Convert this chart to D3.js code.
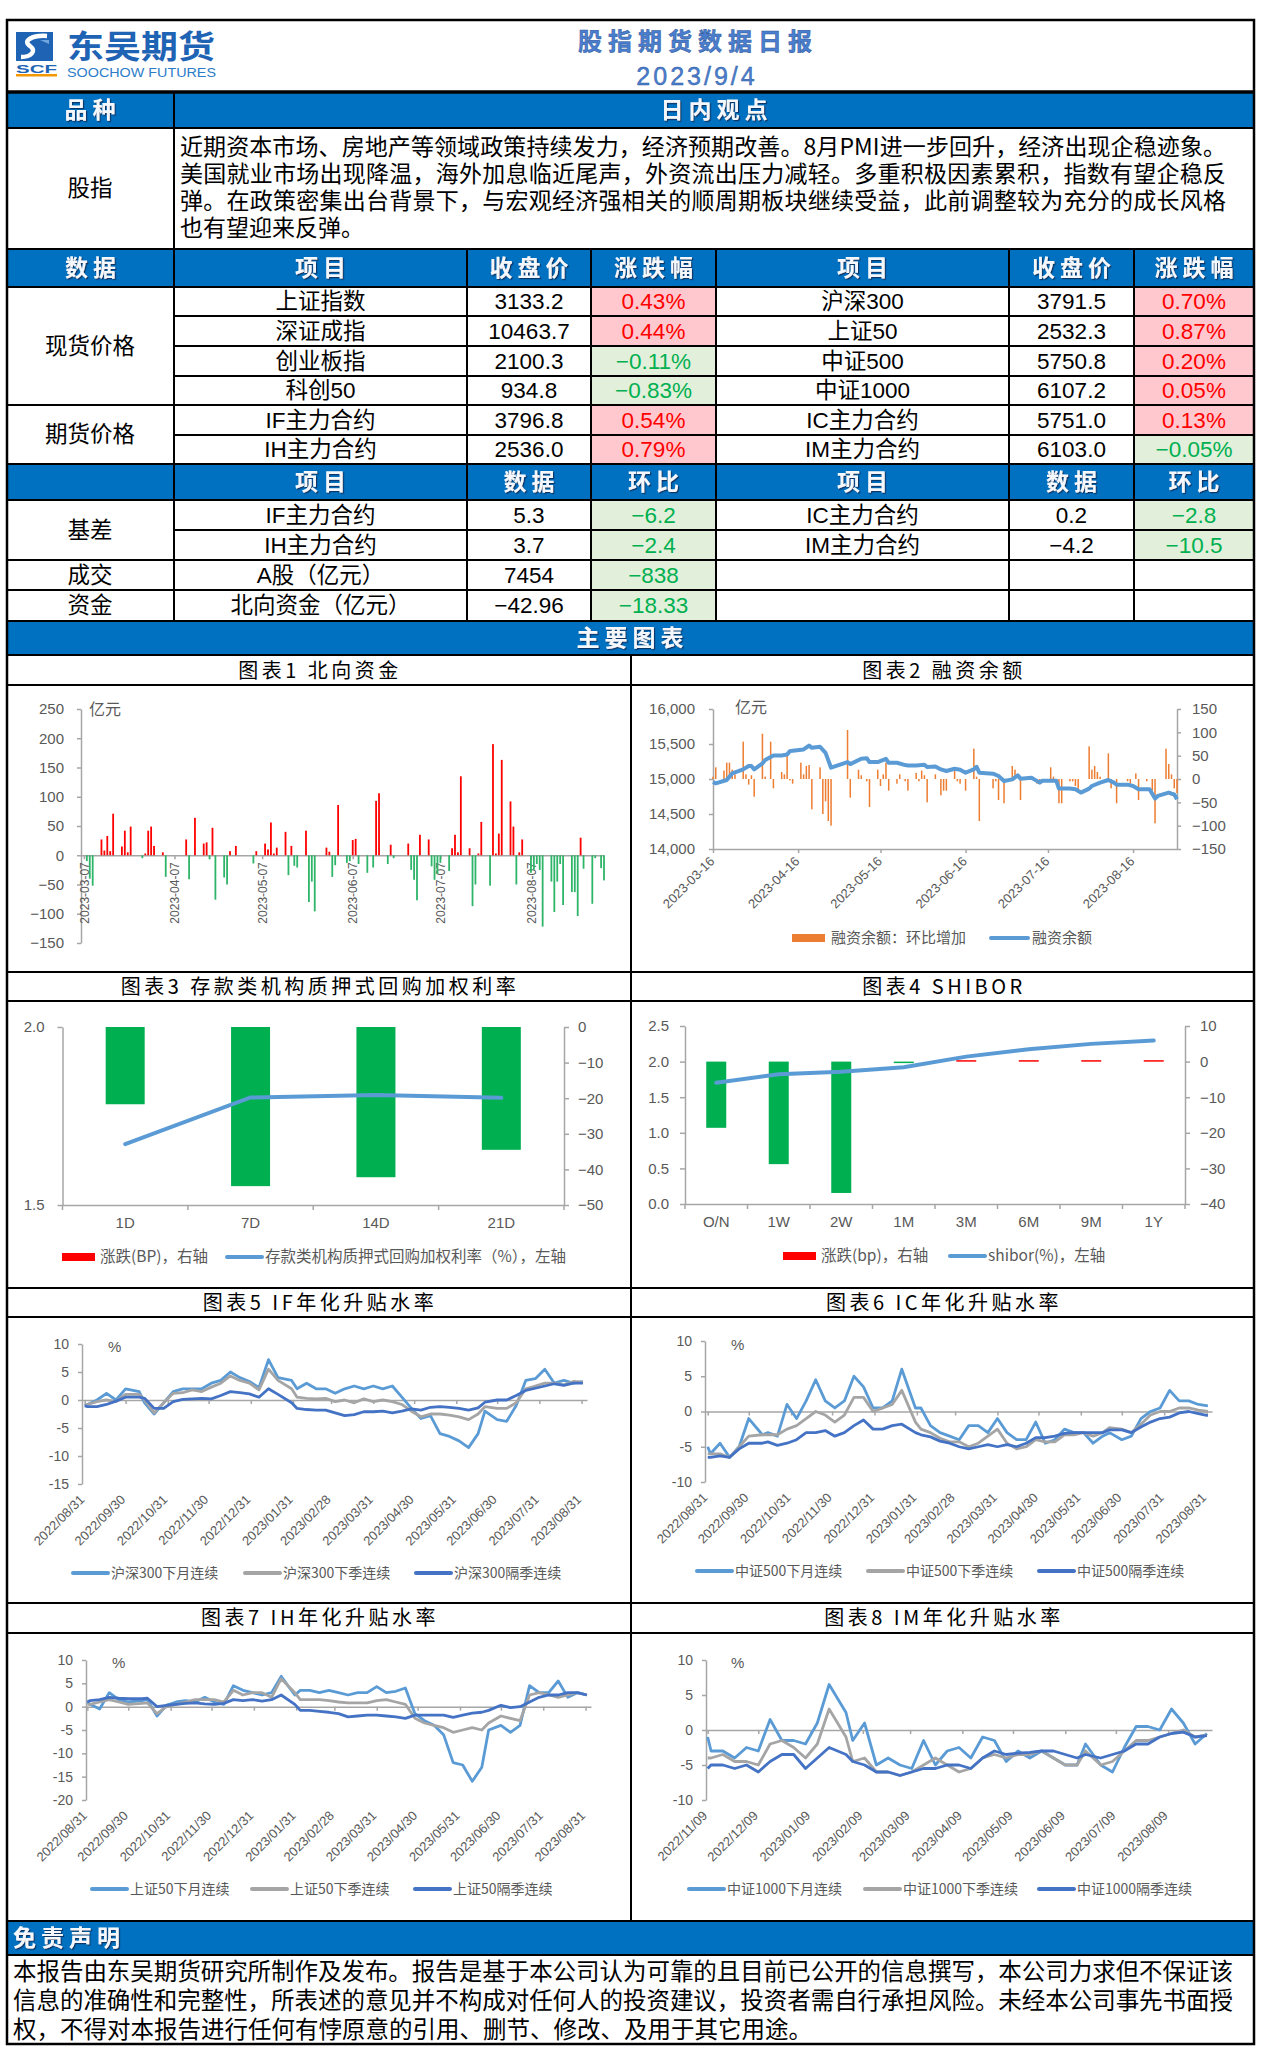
<!DOCTYPE html>
<html lang="zh-CN">
<head>
<meta charset="utf-8">
<title>股指期货数据日报</title>
<script src="https://cdn.jsdelivr.net/npm/d3@7"></script>
<style>
  body { margin: 0; background: #fff; }
  svg { display: block; }
</style>
</head>
<body>
<script>
// ---------------- data ----------------
const reportDate = "2023/9/4";
const commentary = [
  "近期资本市场、房地产等领域政策持续发力，经济预期改善。8月PMI进一步回升，经济出现企稳迹象。",
  "美国就业市场出现降温，海外加息临近尾声，外资流出压力减轻。多重积极因素累积，指数有望企稳反",
  "弹。在政策密集出台背景下，与宏观经济强相关的顺周期板块继续受益，此前调整较为充分的成长风格",
  "也有望迎来反弹。"
];
const disclaimer = [
  "本报告由东吴期货研究所制作及发布。报告是基于本公司认为可靠的且目前已公开的信息撰写，本公司力求但不保证该",
  "信息的准确性和完整性，所表述的意见并不构成对任何人的投资建议，投资者需自行承担风险。未经本公司事先书面授",
  "权，不得对本报告进行任何有悖原意的引用、删节、修改、及用于其它用途。"
];

// price table
const priceLeftNames = ["上证指数", "深证成指", "创业板指", "科创50", "IF主力合约", "IH主力合约"];
const priceLeftClose = [3133.2, 10463.7, 2100.3, 934.8, 3796.8, 2536.0];
const priceLeftChg = [0.43, 0.44, -0.11, -0.83, 0.54, 0.79];
const priceRightNames = ["沪深300", "上证50", "中证500", "中证1000", "IC主力合约", "IM主力合约"];
const priceRightClose = [3791.5, 2532.3, 5750.8, 6107.2, 5751.0, 6103.0];
const priceRightChg = [0.70, 0.87, 0.20, 0.05, 0.13, -0.05];
// basis / turnover / northbound table
const basisLeftNames = ["IF主力合约", "IH主力合约", "A股（亿元）", "北向资金（亿元）"];
const basisLeftValue = [5.3, 3.7, 7454, -42.96];
const basisLeftChg = [-6.2, -2.4, -838, -18.33];
const basisRightNames = ["IC主力合约", "IM主力合约"];
const basisRightValue = [0.2, -4.2];
const basisRightChg = [-2.8, -10.5];

// chart 1: northbound flows (亿元)
const nbDates = ["03-08","03-09","03-10","03-13","03-14","03-15","03-16","03-17","03-20","03-21",
  "03-22","03-23","03-27","03-28","03-29","03-30","03-31","04-03","04-04","04-11",
  "04-12","04-14","04-17","04-18","04-19","04-20","04-21","04-24","04-25","04-26",
  "04-28","05-04","05-05","05-08","05-09","05-10","05-11","05-12","05-15","05-16",
  "05-17","05-18","05-19","05-22","05-23","05-24","05-25","05-29","05-30","05-31",
  "06-01","06-02","06-05","06-06","06-07","06-08","06-09","06-12","06-14","06-15",
  "06-16","06-19","06-20","06-21","06-26","06-27","06-28","06-29","06-30","07-03",
  "07-04","07-05","07-06","07-07","07-10","07-11","07-12","07-13","07-14","07-17",
  "07-18","07-19","07-20","07-21","07-24","07-25","07-26","07-27","07-28","07-31",
  "08-01","08-02","08-03","08-04","08-07","08-08","08-09","08-10","08-11","08-14",
  "08-15","08-16","08-17","08-18","08-21","08-22","08-23","08-24","08-25","08-28",
  "08-29","08-31","09-01"];
const nbValues = [-10,-40,-52,27,8,33,7,71,15,42,
  5,49,-5,3,42,49,16,5,-37,27,
  -41,64,20,22,-7,47,-76,-38,-50,7,
  16,-14,7,20,10,56,3,13,40,-34,
  16,-18,-21,42,-80,-45,-96,13,6,-37,
  -17,86,-13,-10,26,28,-15,-30,-21,93,
  106,-15,18,-5,20,-25,-42,-77,35,27,
  -19,-42,-32,-13,-27,12,35,5,135,12,
  -87,-50,3,57,-52,190,3,37,163,92,
  49,-50,5,27,-30,-25,-15,-25,-122,-45,
  -97,-45,-15,-85,-63,-63,-104,30,-23,-83,
  -5,-22,-43];
const nbTicks = [-150, -100, -50, 0, 50, 100, 150, 200, 250];
const nbLabelDates = ["03-07", "04-07", "05-07", "06-07", "07-07", "08-07"];

// chart 2: margin financing balance (亿元) and daily change
const mbDates = ["03-16","03-17","03-20","03-21","03-22","03-23","03-24","03-27","03-28","03-29",
  "03-30","03-31","04-03","04-04","04-06","04-07","04-10","04-11","04-12","04-13",
  "04-14","04-17","04-18","04-19","04-20","04-21","04-24","04-25","04-26","04-27",
  "04-28","05-04","05-05","05-08","05-09","05-11","05-12","05-15","05-16","05-17",
  "05-18","05-19","05-22","05-23","05-25","05-26","05-29","05-30","05-31","06-01",
  "06-02","06-05","06-07","06-08","06-09","06-12","06-13","06-14","06-16","06-19",
  "06-20","06-21","06-26","06-27","06-28","06-30","07-03","07-04","07-06","07-12",
  "07-13","07-17","07-18","07-20","07-21","07-24","07-25","07-26","07-27","07-31",
  "08-01","08-02","08-03","08-04","08-07","08-08","08-10","08-14","08-15","08-17",
  "08-18","08-21","08-23","08-24","08-28","08-29","08-30","08-31","09-01"];
const mbChange = [5,25,18,35,35,20,10,80,10,-12,
  8,-38,97,5,80,-20,15,10,50,-3,
  -10,35,10,28,30,-65,25,-75,-48,-90,
  -100,105,-40,20,8,-5,-60,20,-15,10,
  35,-25,-10,10,-5,-25,13,-5,18,8,
  -50,10,-35,-25,-25,25,-5,-10,-25,65,
  5,-90,-20,-5,-45,-52,28,20,-45,-10,
  -5,25,5,-52,-52,-5,-5,-15,-25,70,
  20,28,15,5,55,-20,-52,-5,-15,12,
  -45,-5,-25,-95,65,32,10,-20,-30];
const mbBalDates = ["03-16","03-17","03-21","03-23","03-27","03-29","03-30","03-31","04-03","04-04",
  "04-07","04-10","04-12","04-13","04-14","04-18","04-20","04-21","04-24","04-26",
  "04-28","05-04","05-05","05-09","05-11","05-12","05-15","05-18","05-19","05-22",
  "05-25","05-26","05-29","06-01","06-02","06-05","06-07","06-09","06-12","06-14",
  "06-16","06-19","06-20","06-21","06-26","06-28","06-30","07-03","07-05","07-06",
  "07-10","07-11","07-13","07-14","07-19","07-20","07-24","07-26","07-28","07-31",
  "08-01","08-04","08-07","08-09","08-10","08-14","08-16","08-18","08-22","08-24",
  "08-25","08-29","08-30","08-31","09-01"];
const mbBalance = [14957,14938,14986,15080,15137,15185,15185,15137,15222,15270,
  15336,15336,15350,15398,15403,15422,15478,15445,15460,15374,
  15161,15242,15213,15289,15298,15242,15242,15289,15232,15232,
  15199,15194,15194,15204,15170,15180,15137,15114,15147,15133,
  15090,15137,15175,15090,15076,15043,14972,14995,15052,15005,
  15019,14995,14948,14976,14976,14863,14863,14853,14806,14863,
  14900,14948,14986,14948,14919,14919,14900,14853,14853,14720,
  14758,14806,14790,14780,14711];
const mbLeftTicks = [14000, 14500, 15000, 15500, 16000];
const mbRightTicks = [-150, -100, -50, 0, 50, 100, 150];
const mbLabelDates = ["03-16", "04-16", "05-16", "06-16", "07-16", "08-16"];

// chart 3: repo rates
const repoTerms = ["1D", "7D", "14D", "21D"];
const repoChange = [-21.7, -44.7, -42.2, -34.5];
const repoRate = [1.671, 1.802, 1.809, 1.801];
const repoLeftTicks = [1.5, 2.0];
const repoRightTicks = [-50, -40, -30, -20, -10, 0];

// chart 4: SHIBOR
const shiborTerms = ["O/N", "1W", "2W", "1M", "3M", "6M", "9M", "1Y"];
const shiborChange = [-18.6, -28.8, -36.9, -0.2, 0.4, 0.4, 0.4, 0.4];
const shiborRate = [1.704, 1.822, 1.859, 1.920, 2.070, 2.174, 2.249, 2.296];
const shiborLeftTicks = [0, 0.5, 1.0, 1.5, 2.0, 2.5];
const shiborRightTicks = [-40, -30, -20, -10, 0, 10];

// charts 5-7: annualised basis (%), weekly readings
const basisDates = ["2022-08-31","2022-09-02","2022-09-09","2022-09-16","2022-09-23","2022-09-30",
  "2022-10-10","2022-10-14","2022-10-21","2022-10-28","2022-11-04","2022-11-11","2022-11-18","2022-11-25",
  "2022-12-02","2022-12-09","2022-12-16","2022-12-23","2022-12-30","2023-01-06","2023-01-13","2023-01-20",
  "2023-01-30","2023-02-03","2023-02-10","2023-02-17","2023-02-24","2023-03-03","2023-03-10","2023-03-17",
  "2023-03-24","2023-03-31","2023-04-07","2023-04-14","2023-04-21","2023-04-28","2023-05-05","2023-05-12",
  "2023-05-19","2023-05-26","2023-06-02","2023-06-09","2023-06-16","2023-06-21","2023-06-30","2023-07-07",
  "2023-07-14","2023-07-21","2023-07-28","2023-08-04","2023-08-11","2023-08-18","2023-08-25","2023-09-01"];
const monthEndLabels = ["2022-08-31","2022-09-30","2022-10-31","2022-11-30","2022-12-31","2023-01-31",
  "2023-02-28","2023-03-31","2023-04-30","2023-05-31","2023-06-30","2023-07-31","2023-08-31"];
const ifNextMonth = [-1,-0.8,0,1.2,0,2,1.5,-0.5,-2.5,-0.5,1.5,2,2,2,3,3.5,5,4,3.3,2.2,7.2,4,3.5,2,3,2,2,
  1.2,2,2.5,2,2.5,2,2.5,0.5,-1.5,-3.3,-2.8,-6,-6.5,-7.3,-8.5,-6,-2,-3.5,-3.8,-1,3.5,3.8,5.5,3,3.5,3,3.3];
const ifNextQuarter = [-1,-0.8,-0.3,0,-0.3,1,1,0,-2.3,-0.5,1.2,1.3,1.8,1.5,2.3,3,4.3,3.5,3,1.8,5.5,3.5,2,
  0.5,0.3,0.2,0.3,-0.3,0,-0.5,0.2,-0.3,0,-0.3,-0.8,-2,-3,-2.5,-2.5,-2.7,-3,-3.5,-2.5,-1.2,-1.5,-1.5,-0.5,
  2,2.5,3,3,2.7,3.3,3.2];
const ifFarQuarter = [-1,-1.2,-1.2,-0.8,-0.2,0.5,0.5,0.3,-1.5,-1.5,-0.3,0.1,0.2,0.3,0.2,0.8,1.5,1.3,1.1,0.5,
  2,1,-0.5,-1.5,-1.7,-1.8,-1.8,-2.3,-2.8,-2.6,-2.1,-2.1,-2,-2.3,-2,-1.6,-1.8,-1.3,-1.2,-1.3,-1.5,-1.8,-1.4,
  -0.4,0,0,0.8,1.7,2.1,2.5,2.9,2.6,3,3];
const icNextMonth = [-5,-6,-4.5,-6.5,-5,-1,-3.3,-3,-3.5,1,-1,1.5,4.5,1.5,0.5,1.5,5,3.5,0.5,0.5,1.5,6,0.5,
  0.5,-2,-3,-3.5,-4,-2,-2,-3,-1,-3,-4,-4,-1.5,-4.5,-4,-2.5,-3,-3,-4.5,-3.5,-3,-4,-3.5,-1,0,0.5,3,1.5,1.5,1,0.8];
const icNextQuarter = [-6,-6,-6,-6.5,-5,-3.5,-3.3,-3.3,-3.3,-2.5,-2,-1,0,-0.5,-1.5,-0.5,2,2,0,0.5,1,3,-1.5,
  -2.5,-3,-3.8,-4.3,-4.3,-5,-4.5,-3.5,-2.5,-4.5,-5.3,-5,-4,-4.3,-4.3,-3.3,-3.3,-3,-3.5,-3,-2.3,-2.5,-3,-1.8,
  -0.5,0,0,0.5,0.5,0.2,0];
const icFarQuarter = [-6.5,-6.5,-6.3,-6.5,-5.3,-4.5,-4.5,-4.3,-4.8,-4.5,-4,-3,-3,-2.7,-3.5,-3,-2,-1.2,-2.5,
  -2.5,-2,-1.8,-3,-3.3,-3.6,-4.2,-4.5,-5,-5.3,-5,-4.7,-5,-4.7,-5,-4.5,-3.7,-3.7,-3.5,-3.1,-3,-3,-3,-3,-2.6,
  -2.6,-3,-2.2,-1.5,-1,-0.8,-0.2,0,-0.3,-0.6];
const ihNextMonth = [1,0.5,-0.5,3,1.5,1,1.3,1.5,-2,0.3,1,1.3,1,2,1,0.5,4.5,3.5,3,2.5,3,6.5,2.5,3.5,3.5,3,
  3.5,3,2.5,3,3,4.3,3,3.3,4,-1.5,-3,-4,-6,-12,-12.5,-16,-13,-5,-4,-5.5,-4,4.5,3,3,5.5,2,3,2.5];
const ihNextQuarter = [0.5,0.5,1,1.5,1,0.5,0.7,0.8,-1.5,0,0.5,1,1.5,1.5,1.5,1,3.5,2.5,3,3,2,6,3,1.5,1.5,
  1.5,1.3,1,0.8,0.8,0.8,1.3,1.5,1,0.5,-2.5,-3.5,-4,-4.5,-5.5,-5,-4.5,-5,-3.5,-2,-2.5,-3,2.5,3,2.5,2,2.5,3,2.5];
const ihFarQuarter = [1,1.3,1.5,2,1.8,1.7,1.7,1.8,0,0.3,0.5,0.7,0.8,0.6,0.5,0.7,1.5,1.3,1.5,1.2,1.5,2.5,0.5,
  -0.8,-0.8,-1,-1.2,-1.5,-2.2,-2,-1.8,-1.8,-2,-2.2,-2.5,-1.8,-1.8,-1.8,-1.8,-2.3,-1.8,-1.4,-1.2,-0.8,0.3,
  -0.2,0,1,2,2.5,2.5,3,3,2.5];

// chart 8: IM annualised basis (%), weekly readings
const imDates = ["2022-11-09","2022-11-11","2022-11-18","2022-11-25","2022-12-02","2022-12-09","2022-12-16",
  "2022-12-23","2022-12-30","2023-01-06","2023-01-13","2023-01-20","2023-01-30","2023-02-03","2023-02-10",
  "2023-02-17","2023-02-24","2023-03-03","2023-03-10","2023-03-17","2023-03-24","2023-03-31","2023-04-07",
  "2023-04-14","2023-04-21","2023-04-28","2023-05-05","2023-05-12","2023-05-19","2023-05-26","2023-06-02",
  "2023-06-09","2023-06-16","2023-06-21","2023-06-30","2023-07-07","2023-07-14","2023-07-21","2023-07-28",
  "2023-08-04","2023-08-11","2023-08-18","2023-08-25","2023-09-01"];
const imLabels = ["2022-11-09","2022-12-09","2023-01-09","2023-02-09","2023-03-09","2023-04-09",
  "2023-05-09","2023-06-09","2023-07-09","2023-08-09"];
const imNextMonth = [-1,-3,-3,-4,-2.5,-3,1.5,-1.5,-1.5,-2,1,6.5,2.5,-1.5,1,-5,-4,-5,-5.5,-1.5,-5,-3,-2.5,
  -4,-1,-1.5,-4.5,-3,-4,-3,-4,-5,-5,-2,-5,-6,-2.5,0.5,0.5,0,3,1,-2,-0.5];
const imNextQuarter = [-4,-4,-3.5,-4.5,-4.5,-5,-2,-1.5,-2.5,-4,-2,3,-1,-4.5,-4,-6,-6,-6.5,-6,-5,-4,-5,-6,
  -5.5,-4,-3.5,-4,-3.5,-3.5,-3,-4,-5,-5,-3,-5,-4.5,-3,-1.5,-1.5,-1,-0.5,0,-1,-0.7];
const imFarQuarter = [-5.5,-5,-5,-5.5,-5,-6,-4.5,-3.5,-3.5,-5.5,-4,-2.5,-3.5,-4.5,-5,-6,-6,-6.5,-6,-5.5,
  -5.5,-5,-5,-5.5,-4,-3,-3.5,-3.3,-3.2,-3,-3,-3.5,-4,-3.5,-4,-3.5,-3,-2,-2,-1,-0.5,-0.3,-1,-0.8];

// ---------------- drawing ----------------
const W = 1262, H = 2065;
const FONT = '"Liberation Sans","Noto Sans CJK SC",sans-serif';
const CJK = '"Noto Sans CJK SC","Liberation Sans",sans-serif';
const AXIS = "#A6A6A6", LABEL = "#595959";
const parse = d3.utcParse("%Y-%m-%d");
const d23 = s => parse("2023-" + s);

const svg = d3.select("body").append("svg")
    .attr("width", W).attr("height", H)
    .attr("font-family", FONT);
svg.append("rect").attr("width", W).attr("height", H).attr("fill", "#fff");
svg.append("defs").append("filter").attr("id", "shade")
  .append("feDropShadow").attr("dx", 1.2).attr("dy", 1.2).attr("stdDeviation", 0.3)
    .attr("flood-color", "#0f3466").attr("flood-opacity", 1);

function text(x, y, s, o = {}) {
  return svg.append("text")
      .attr("x", x).attr("y", y).attr("dy", "0.35em")
      .attr("text-anchor", o.anchor || "middle")
      .attr("font-size", o.size || 16)
      .attr("font-family", o.font || FONT)
      .attr("font-weight", o.weight || null)
      .attr("letter-spacing", o.ls || null)
      .attr("fill", o.fill || "#000")
      .text(s);
}
function barText(x, y, s, anchor = "middle") {
  const dx = anchor === "middle" ? 2.5 : 0;   // letter-spacing leaves a trailing gap
  text(x + dx, y, s, {anchor, size: 23, weight: "bold", fill: "#f4f8fc", font: CJK, ls: 5})
      .attr("filter", "url(#shade)");
}
// several lines in one text element, each stretched to a given width
function paragraph(x, y0, step, lines, size, width, justifyCount) {
  const t = svg.append("text").attr("font-size", size).attr("font-family", CJK).attr("fill", "#000");
  lines.forEach((s, i) => {
    const sp = t.append("tspan").attr("x", x).attr("y", y0 + i * step).attr("dy", "0.35em").text(s);
    if (i < justifyCount) {
      const len = sp.node().getComputedTextLength();
      sp.attr("letter-spacing", (width - len) / (s.length - 1));
    }
  });
}
function styleAxis(g, size) {
  g.attr("font-family", FONT).attr("font-size", size);
  g.selectAll(".domain").attr("stroke", AXIS).attr("stroke-width", 1.5);
  g.selectAll(".tick line").attr("stroke", AXIS).attr("stroke-width", 1.5);
  g.selectAll(".tick text").attr("fill", LABEL);
}

// ---- frame / table ----
const X = [7, 174, 467, 591, 716, 1009, 1134, 1254];
const blueRows = [[92, 128], [249, 287], [464, 500], [621, 655], [1921, 1955]];
blueRows.forEach(([a, b]) => svg.append("rect")
    .attr("x", 7).attr("y", a).attr("width", 1247).attr("height", b - a).attr("fill", "#0070C0"));

const priceRowY = [287, 316, 346, 376, 405, 435, 464];
const basisRowY = [500, 530, 560, 590, 621];
const PINK = "#FFC7CE", PALEGREEN = "#E2EFDA", RED = "#FF0000", GREEN = "#00B050";
const TS = 22.5;
const fmtPct = d3.format(".2f");
function chgCell(x0, x1, y0, y1, v, str) {
  svg.append("rect").attr("x", x0).attr("y", y0).attr("width", x1 - x0).attr("height", y1 - y0)
      .attr("fill", v >= 0 ? PINK : PALEGREEN);
  text((x0 + x1) / 2, (y0 + y1) / 2, str, {size: TS, fill: v >= 0 ? RED : GREEN});
}
priceLeftChg.forEach((v, i) => chgCell(X[3], X[4], priceRowY[i], priceRowY[i + 1], v, fmtPct(v) + "%"));
priceRightChg.forEach((v, i) => chgCell(X[6], X[7], priceRowY[i], priceRowY[i + 1], v, fmtPct(v) + "%"));
basisLeftChg.forEach((v, i) => chgCell(X[3], X[4], basisRowY[i], basisRowY[i + 1], v, String(v).replace("-", "−")));
basisRightChg.forEach((v, i) => chgCell(X[6], X[7], basisRowY[i], basisRowY[i + 1], v, String(v).replace("-", "−")));

// grid lines
function hline(y, x0 = 7, x1 = 1254, w = 2) {
  svg.append("line").attr("x1", x0).attr("x2", x1).attr("y1", y).attr("y2", y)
      .attr("stroke", "#000").attr("stroke-width", w);
}
function vline(x, y0, y1, w = 2) {
  svg.append("line").attr("x1", x).attr("x2", x).attr("y1", y0).attr("y2", y1)
      .attr("stroke", "#000").attr("stroke-width", w);
}
hline(92, 7, 1254, 3.5);
[128, 249, 287, 405, 464, 500, 560, 590, 621, 655, 685, 972, 1001, 1288, 1317, 1603, 1633, 1921, 1955]
    .forEach(y => hline(y));
[316, 346, 376, 435, 530].forEach(y => hline(y, X[1]));
vline(X[1], 92, 621);
X.slice(2, 7).forEach(x => vline(x, 249, 621));
vline(631, 655, 1921);
svg.append("rect").attr("x", 7).attr("y", 20).attr("width", 1247).attr("height", 2024)
    .attr("fill", "none").attr("stroke", "#000").attr("stroke-width", 2.5);

// header: logo + titles
svg.append("rect").attr("x", 16).attr("y", 32).attr("width", 37).attr("height", 29).attr("fill", "#1F64B4");
svg.append("path").attr("d", "M47,36 C32,35 22,41 30,46 C37,51 31,57 21,57")
    .attr("fill", "none").attr("stroke", "#fff").attr("stroke-width", 4.5);
svg.append("path").attr("d", "M40,40 L49,40 L49,44 Z").attr("fill", "#6FA6DD");
svg.append("text").attr("x", 16).attr("y", 72.5).attr("font-size", 11).attr("font-weight", "bold")
    .attr("fill", "#1F64B4").attr("textLength", 41).attr("lengthAdjust", "spacingAndGlyphs").text("SCF");
svg.append("rect").attr("x", 16).attr("y", 74).attr("width", 41).attr("height", 2.5).attr("fill", "#F39800");
svg.append("text").attr("x", 67).attr("y", 58).attr("font-size", 32).attr("font-weight", "bold")
    .attr("font-family", CJK).attr("fill", "#1F64B4")
    .attr("textLength", 148).attr("lengthAdjust", "spacingAndGlyphs").text("东吴期货");
svg.append("text").attr("x", 67).attr("y", 77).attr("font-size", 12)
    .attr("fill", "#2B7BC8").attr("textLength", 149).attr("lengthAdjust", "spacingAndGlyphs")
    .text("SOOCHOW FUTURES");
text(698, 42, "股指期货数据日报", {size: 24, weight: "bold", fill: "#4A7FD0", font: CJK, ls: 6})
    .attr("stroke", "#2F5597").attr("stroke-width", 0.5);
text(697, 76, reportDate, {size: 25, fill: "#4A7FD0", ls: 3})
    .attr("stroke", "#2F5597").attr("stroke-width", 0.4);

// section bars
barText(90, 110, "品种");
barText(714, 110, "日内观点");
["数据", "项目", "收盘价", "涨跌幅", "项目", "收盘价", "涨跌幅"].forEach((s, i) =>
  barText((X[i] + X[i + 1]) / 2, 268, s));
["项目", "数据", "环比", "项目", "数据", "环比"].forEach((s, i) =>
  barText((X[i + 1] + X[i + 2]) / 2, 482, s));
barText(630, 638, "主要图表");
barText(13, 1938, "免责声明", "start");

// commentary
text(90, 188, "股指", {size: TS, font: CJK});
paragraph(180, 147, 27, commentary, 23, 1046, 3);

// table body
const mid = (a, b) => (a + b) / 2;
text(90, mid(287, 405), "现货价格", {size: TS, font: CJK});
text(90, mid(405, 464), "期货价格", {size: TS, font: CJK});
text(90, mid(500, 560), "基差", {size: TS, font: CJK});
text(90, mid(560, 590), "成交", {size: TS, font: CJK});
text(90, mid(590, 621), "资金", {size: TS, font: CJK});
const fmt1 = d3.format(".1f");
priceLeftNames.forEach((s, i) => {
  const yc = mid(priceRowY[i], priceRowY[i + 1]);
  text(mid(X[1], X[2]), yc, s, {size: TS});
  text(mid(X[2], X[3]), yc, fmt1(priceLeftClose[i]), {size: TS});
  text(mid(X[4], X[5]), yc, priceRightNames[i], {size: TS});
  text(mid(X[5], X[6]), yc, fmt1(priceRightClose[i]), {size: TS});
});
basisLeftNames.forEach((s, i) => {
  const yc = mid(basisRowY[i], basisRowY[i + 1]);
  text(mid(X[1], X[2]), yc, s, {size: TS});
  text(mid(X[2], X[3]), yc, String(basisLeftValue[i]).replace("-", "−"), {size: TS});
});
basisRightNames.forEach((s, i) => {
  const yc = mid(basisRowY[i], basisRowY[i + 1]);
  text(mid(X[4], X[5]), yc, s, {size: TS});
  text(mid(X[5], X[6]), yc, String(basisRightValue[i]).replace("-", "−"), {size: TS});
});

// chart titles
const titles = [
  ["图表1  北向资金", "图表2  融资余额", 670.5],
  ["图表3  存款类机构质押式回购加权利率", "图表4  SHIBOR", 986.5],
  ["图表5  IF年化升贴水率", "图表6  IC年化升贴水率", 1302.5],
  ["图表7  IH年化升贴水率", "图表8  IM年化升贴水率", 1618]
];
titles.forEach(([a, b, y]) => {
  text(320, y, a, {size: 20, font: CJK, ls: 3.5});
  text(944, y, b, {size: 20, font: CJK, ls: 3.5});
});

// ---- chart 1: northbound ----
{
  const x = d3.scaleUtc().domain([parse("2023-03-06"), parse("2023-09-01")]).range([81, 604]);
  const y = d3.scaleLinear().domain([-150, 250]).range([943, 709]);
  svg.append("g").attr("transform", "translate(81,0)")
      .call(d3.axisLeft(y).tickValues(nbTicks).tickSize(4).tickSizeOuter(0).tickPadding(13))
      .call(styleAxis, 15);
  const xa = svg.append("g").attr("transform", `translate(0,${y(0)})`)
      .call(d3.axisBottom(x).tickValues(nbLabelDates.map(d23)).tickSize(4).tickSizeOuter(0)
        .tickFormat(d3.utcFormat("%Y-%m-%d")))
      .call(styleAxis, 12);
  xa.selectAll(".tick text").attr("transform", "rotate(-90)").attr("x", -7).attr("y", 0)
      .attr("dy", "0.35em").attr("text-anchor", "end");
  svg.append("g").selectAll("rect").data(nbDates.map((d, i) => [d23(d), nbValues[i]])).join("rect")
      .attr("x", d => x(d[0]) - 0.9).attr("width", 1.8)
      .attr("y", d => Math.min(y(d[1]), y(0))).attr("height", d => Math.abs(y(d[1]) - y(0)))
      .attr("fill", d => d[1] >= 0 ? "#FF0000" : "#2FB56A");
  text(89, 709, "亿元", {anchor: "start", size: 16, font: CJK, fill: LABEL});
}

// ---- chart 2: margin balance ----
{
  const x = d3.scaleUtc().domain([d23("03-16"), d23("09-01")]).range([713, 1177]);
  const yL = d3.scaleLinear().domain([14000, 16000]).range([849, 709]);
  const yR = d3.scaleLinear().domain([-150, 150]).range([849, 709]);
  svg.append("g").attr("transform", "translate(713,0)")
      .call(d3.axisLeft(yL).tickValues(mbLeftTicks).tickSize(4).tickSizeOuter(0).tickPadding(14).tickFormat(d3.format(",")))
      .call(styleAxis, 15);
  svg.append("g").attr("transform", "translate(1177,0)")
      .call(d3.axisRight(yR).tickValues(mbRightTicks).tickSize(4).tickSizeOuter(0).tickPadding(11))
      .call(styleAxis, 15);
  const xa = svg.append("g").attr("transform", "translate(0,849)")
      .call(d3.axisBottom(x).tickValues(mbLabelDates.map(d23)).tickSize(4).tickSizeOuter(0)
        .tickFormat(d3.utcFormat("%Y-%m-%d")))
      .call(styleAxis, 13);
  xa.selectAll(".tick text").attr("transform", "rotate(-45)").attr("x", -8).attr("y", 6)
      .attr("dy", "0.35em").attr("text-anchor", "end");
  svg.append("g").selectAll("rect").data(mbDates.map((d, i) => [d23(d), mbChange[i]])).join("rect")
      .attr("x", d => x(d[0]) - 0.75).attr("width", 1.5)
      .attr("y", d => Math.min(yR(d[1]), yR(0))).attr("height", d => Math.abs(yR(d[1]) - yR(0)))
      .attr("fill", "#ED7D31");
  svg.append("path").datum(mbBalDates.map((d, i) => [d23(d), mbBalance[i]]))
      .attr("fill", "none").attr("stroke", "#5B9BD5").attr("stroke-width", 4).attr("stroke-linejoin", "round")
      .attr("d", d3.line().x(d => x(d[0])).y(d => yL(d[1])));
  text(735, 707, "亿元", {anchor: "start", size: 16, font: CJK, fill: LABEL});
  svg.append("rect").attr("x", 792).attr("y", 934).attr("width", 33).attr("height", 8).attr("fill", "#ED7D31");
  text(831, 938, "融资余额：环比增加", {anchor: "start", size: 15, font: CJK, fill: LABEL});
  svg.append("line").attr("x1", 991).attr("x2", 1028).attr("y1", 938).attr("y2", 938)
      .attr("stroke", "#5B9BD5").attr("stroke-width", 4).attr("stroke-linecap", "round");
  text(1032, 938, "融资余额", {anchor: "start", size: 15, font: CJK, fill: LABEL});
}

// ---- charts 3 & 4: rate bars + line ----
function rateChart(c) {
  const x = d3.scaleBand().domain(c.cats).range(c.xRange);
  const yL = d3.scaleLinear().domain(c.leftDomain).range(c.yRange);
  const yR = d3.scaleLinear().domain(c.rightDomain).range(c.yRange);
  const [x0, x1] = c.xRange, yb = c.yRange[0];
  svg.append("g").attr("transform", `translate(${x0},0)`)
      .call(d3.axisLeft(yL).tickValues(c.leftTicks).tickSize(5).tickSizeOuter(0).tickPadding(c.padL).tickFormat(d3.format(".1f")))
      .call(styleAxis, 15);
  svg.append("g").attr("transform", `translate(${x1},0)`)
      .call(d3.axisRight(yR).tickValues(c.rightTicks).tickSize(5).tickSizeOuter(0).tickPadding(c.padR))
      .call(styleAxis, 15);
  svg.append("g").attr("transform", `translate(0,${yb})`)
      .call(d3.axisBottom(x).tickSize(0).tickSizeOuter(0).tickPadding(12))
      .call(styleAxis, 15);
  svg.append("g").selectAll("line").data(d3.range(c.cats.length + 1)).join("line")
      .attr("x1", i => x0 + i * x.step()).attr("x2", i => x0 + i * x.step())
      .attr("y1", yb).attr("y2", yb + 5).attr("stroke", AXIS).attr("stroke-width", 1.5);
  const bw = c.barWidth;
  svg.append("g").selectAll("rect").data(c.cats.map((k, i) => [k, c.change[i]])).join("rect")
      .attr("x", d => x(d[0]) + x.bandwidth() / 2 - bw / 2).attr("width", bw)
      .attr("y", d => Math.min(yR(d[1]), yR(0)))
      .attr("height", d => Math.max(1.5, Math.abs(yR(d[1]) - yR(0))))
      .attr("fill", d => d[1] >= 0 ? "#FF0000" : "#00B050");
  svg.append("path").datum(c.cats.map((k, i) => [k, c.rate[i]]))
      .attr("fill", "none").attr("stroke", "#5B9BD5").attr("stroke-width", 4).attr("stroke-linecap", "round")
      .attr("d", d3.line().x(d => x(d[0]) + x.bandwidth() / 2).y(d => yL(d[1])));
  const L = c.legend;
  svg.append("rect").attr("x", L.rect).attr("y", L.y - 4).attr("width", 33).attr("height", 8).attr("fill", "#FF0000");
  text(L.rect + 38, L.y, L.t1, {anchor: "start", size: 15.5, font: CJK, fill: LABEL});
  svg.append("line").attr("x1", L.line).attr("x2", L.line + 35).attr("y1", L.y).attr("y2", L.y)
      .attr("stroke", "#5B9BD5").attr("stroke-width", 4).attr("stroke-linecap", "round");
  text(L.line + 38, L.y, L.t2, {anchor: "start", size: 15.5, font: CJK, fill: LABEL});
}
rateChart({cats: repoTerms, change: repoChange, rate: repoRate, xRange: [62.5, 564], yRange: [1205, 1027],
  leftDomain: [1.5, 2.0], rightDomain: [-50, 0], leftTicks: repoLeftTicks, rightTicks: repoRightTicks,
  padL: 13, padR: 9, barWidth: 39,
  legend: {y: 1257, rect: 62, line: 227, t1: "涨跌(BP)，右轴", t2: "存款类机构质押式回购加权利率（%），左轴"}});
rateChart({cats: shiborTerms, change: shiborChange, rate: shiborRate, xRange: [685, 1185], yRange: [1204, 1026],
  leftDomain: [0, 2.5], rightDomain: [-40, 10], leftTicks: shiborLeftTicks, rightTicks: shiborRightTicks,
  padL: 11, padR: 10, barWidth: 20,
  legend: {y: 1256, rect: 783, line: 950, t1: "涨跌(bp)，右轴", t2: "shibor(%)，左轴"}});

// ---- charts 5-8: annualised basis ----
function basisChart(c) {
  const x = d3.scaleUtc().domain(c.xDomain.map(parse)).range(c.xRange);
  const y = d3.scaleLinear().domain(c.yDomain).range(c.yRange);
  const [x0] = c.xRange, yb = c.yRange[0];
  svg.append("g").attr("transform", `translate(${x0},0)`)
      .call(d3.axisLeft(y).tickValues(c.ticks).tickSize(4).tickSizeOuter(0).tickPadding(9).tickFormat(d => String(d)))
      .call(styleAxis, 14);
  const labelDates = c.labels.map(parse);
  svg.append("g").attr("transform", `translate(0,${y(0)})`)
      .call(d3.axisBottom(x).tickValues(labelDates).tickSize(4).tickSizeOuter(0).tickFormat(""))
      .call(styleAxis, 12);
  const la = svg.append("g").attr("transform", `translate(0,${yb})`)
      .call(d3.axisBottom(x).tickValues(labelDates).tickSize(0).tickSizeOuter(0).tickFormat(d3.utcFormat("%Y/%m/%d")))
      .call(styleAxis, 13);
  la.select(".domain").remove();
  la.selectAll(".tick text").attr("transform", "rotate(-45)").attr("x", -11.5).attr("y", 7)
      .attr("dy", "0.35em").attr("text-anchor", "end");
  const colors = ["#5B9BD5", "#A5A5A5", "#4472C4"];
  const line = d3.line().x(d => x(d[0])).y(d => y(d[1]));
  c.series.forEach((s, k) => {
    svg.append("path").datum(c.dates.map((d, i) => [parse(d), s[i]]))
        .attr("fill", "none").attr("stroke", colors[k]).attr("stroke-width", 2.8)
        .attr("stroke-linejoin", "round").attr("d", line);
  });
  text(c.pct[0], c.pct[1], "%", {anchor: "start", size: 15, fill: LABEL});
  c.names.forEach((n, k) => {
    const lx = c.legendX[k];
    svg.append("line").attr("x1", lx).attr("x2", lx + 35).attr("y1", c.legendY).attr("y2", c.legendY)
        .attr("stroke", colors[k]).attr("stroke-width", 4).attr("stroke-linecap", "round");
    text(lx + 38, c.legendY, n, {anchor: "start", size: 14, font: CJK, fill: LABEL});
  });
}
basisChart({xDomain: ["2022-08-29", "2023-09-04"], xRange: [82, 587], yDomain: [-15, 10], yRange: [1484, 1344],
  ticks: [-15, -10, -5, 0, 5, 10], labels: monthEndLabels, dates: basisDates,
  series: [ifNextMonth, ifNextQuarter, ifFarQuarter], pct: [108, 1347],
  names: ["沪深300下月连续", "沪深300下季连续", "沪深300隔季连续"], legendX: [73, 245, 416], legendY: 1573});
basisChart({xDomain: ["2022-08-29", "2023-09-04"], xRange: [705, 1212], yDomain: [-10, 10], yRange: [1482, 1341],
  ticks: [-10, -5, 0, 5, 10], labels: monthEndLabels, dates: basisDates,
  series: [icNextMonth, icNextQuarter, icFarQuarter], pct: [731, 1345],
  names: ["中证500下月连续", "中证500下季连续", "中证500隔季连续"], legendX: [697, 868, 1039], legendY: 1571});
basisChart({xDomain: ["2022-08-30", "2023-09-04"], xRange: [86, 591], yDomain: [-20, 10], yRange: [1800, 1660],
  ticks: [-20, -15, -10, -5, 0, 5, 10], labels: monthEndLabels, dates: basisDates,
  series: [ihNextMonth, ihNextQuarter, ihFarQuarter], pct: [112, 1663],
  names: ["上证50下月连续", "上证50下季连续", "上证50隔季连续"], legendX: [92, 252, 415], legendY: 1889});
basisChart({xDomain: ["2022-11-08", "2023-09-04"], xRange: [706, 1212], yDomain: [-10, 10], yRange: [1800, 1660],
  ticks: [-10, -5, 0, 5, 10], labels: imLabels, dates: imDates,
  series: [imNextMonth, imNextQuarter, imFarQuarter], pct: [731, 1663],
  names: ["中证1000下月连续", "中证1000下季连续", "中证1000隔季连续"], legendX: [689, 865, 1039], legendY: 1889});

// disclaimer
paragraph(13, 1972, 29, disclaimer, 23.5, 1220, 2);
</script>
</body>
</html>
